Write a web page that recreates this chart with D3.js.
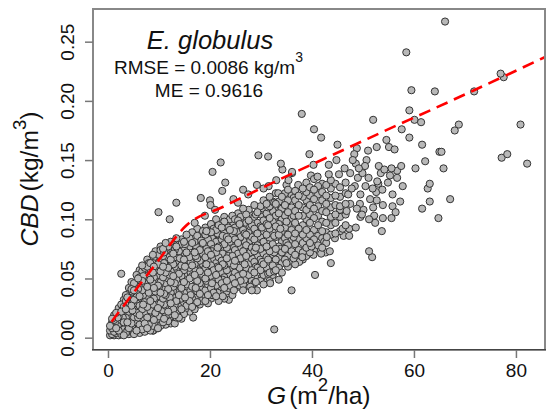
<!DOCTYPE html>
<html>
<head>
<meta charset="utf-8">
<script src="https://cdnjs.cloudflare.com/ajax/libs/d3/7.8.5/d3.min.js"></script>
<style>
  html, body { margin: 0; padding: 0; background: #fff; }
  text { font-family: "Liberation Sans", Arial, sans-serif; fill: #111; }
</style>
</head>
<body>
<div id="chart"></div>
<script>
const xTicks = [0, 20, 40, 60, 80]
const yTicks = [0, 0.05, 0.1, 0.15, 0.2, 0.25]

const cloudRows = [
  [0.4, [2, 6, 10]],
  [0.8, [3, 8, 13, 16]],
  [1.2, [2, 5, 11, 15, 19]],
  [1.6, [4, 8, 14, 21]],
  [2.1, [2, 6, 12, 18, 25]],
  [2.6, [3, 9, 15, 22, 28]],
  [3.1, [2, 7, 13, 19, 26, 32]],
  [3.5, [4, 10, 17, 24, 31, 36]],
  [4.1, [3, 8, 15, 22, 29, 37, 42]],
  [4.6, [5, 12, 19, 27, 34, 41, 47]],
  [5.1, [3, 9, 17, 25, 32, 40, 46]],
  [5.6, [6, 13, 21, 29, 37, 45, 53]],
  [6.2, [4, 11, 19, 27, 35, 43, 51, 57]],
  [6.7, [7, 15, 24, 32, 40, 48, 56, 61]],
  [7.2, [5, 12, 21, 30, 38, 46, 55, 59]],
  [7.7, [8, 17, 26, 34, 43, 52, 60, 66]],
  [8.3, [6, 14, 23, 31, 40, 49, 58, 63]],
  [8.8, [6, 10, 19, 28, 37, 46, 55, 63, 70]],
  [9.3, [12, 21, 30, 39, 48, 57, 66, 73]],
  [9.8, [8, 16, 25, 35, 44, 53, 62, 69]],
  [10.3, [10, 20, 29, 38, 47, 56, 65, 74, 77]],
  [10.8, [13, 23, 33, 42, 51, 60, 69, 75]],
  [11.3, [11, 18, 27, 36, 46, 55, 64, 73, 80]],
  [11.8, [14, 22, 31, 41, 50, 59, 68, 77]],
  [12.3, [12, 20, 29, 38, 47, 56, 66, 75, 81]],
  [12.8, [15, 24, 34, 43, 52, 62, 71, 79]],
  [13.4, [17, 22, 31, 40, 49, 58, 68, 77, 84]],
  [13.9, [17, 26, 36, 45, 54, 64, 73, 80]],
  [14.4, [16, 24, 33, 42, 52, 61, 70, 79, 83]],
  [14.9, [20, 29, 38, 47, 57, 66, 75, 81]],
  [15.4, [23, 27, 36, 45, 54, 63, 72, 81, 87]],
  [16, [22, 31, 40, 50, 59, 68, 77, 84]],
  [16.5, [26, 33, 43, 52, 61, 70, 80, 89]],
  [17, [24, 34, 44, 53, 62, 72, 81]],
  [17.5, [30, 39, 48, 58, 67, 76, 86, 92]],
  [18, [28, 37, 46, 56, 65, 74, 84]],
  [18.6, [34, 43, 52, 62, 71, 80, 90]],
  [19.1, [31, 40, 50, 59, 68, 78, 87, 93]],
  [19.6, [29, 36, 45, 55, 64, 73, 83, 90]],
  [20.2, [33, 42, 51, 61, 70, 79, 89, 96]],
  [20.7, [38, 47, 57, 66, 75, 85, 92]],
  [21.2, [35, 44, 53, 63, 72, 81, 91, 100]],
  [21.7, [31, 40, 49, 59, 68, 77, 87, 95]],
  [22.3, [37, 46, 55, 65, 74, 83, 93]],
  [22.8, [33, 42, 51, 61, 70, 79, 89, 98, 102]],
  [23.3, [39, 48, 57, 67, 76, 85, 95]],
  [23.9, [44, 53, 63, 72, 81, 91, 100]],
  [24.4, [36, 41, 50, 59, 69, 78, 87, 97, 103]],
  [24.9, [46, 55, 65, 74, 83, 93, 100]],
  [25.5, [43, 52, 61, 71, 80, 89, 99, 105]],
  [26, [48, 57, 67, 76, 85, 95, 102]],
  [26.5, [40, 45, 54, 63, 73, 82, 91, 101, 109]],
  [27.1, [50, 59, 69, 78, 87, 97, 104]],
  [27.6, [44, 53, 62, 71, 81, 90, 99, 108]],
  [28.2, [40, 48, 57, 67, 76, 85, 95, 104]],
  [28.7, [46, 55, 64, 73, 83, 92, 102, 112]],
  [29.3, [50, 59, 69, 78, 88, 97, 106]],
  [29.9, [48, 57, 66, 75, 85, 94, 104, 111]],
  [30.5, [45, 53, 62, 71, 81, 90, 99, 109, 116]],
  [31.1, [59, 68, 77, 87, 96, 105, 113]],
  [31.7, [48, 55, 64, 73, 83, 92, 101, 111, 119]],
  [32.3, [53, 61, 70, 79, 89, 98, 107, 115]],
  [32.9, [57, 66, 75, 85, 94, 103, 113, 122]],
  [33.5, [59, 68, 77, 87, 96, 105, 115]],
  [34.1, [55, 63, 72, 81, 90, 100, 109, 119]],
  [34.7, [66, 75, 84, 93, 103, 112, 122]],
  [35.3, [60, 69, 78, 87, 96, 106, 116, 125]],
  [36, [64, 73, 82, 91, 101, 110, 120]],
  [36.7, [62, 70, 79, 88, 97, 107, 116, 124]],
  [37.4, [66, 74, 83, 92, 103, 112, 120]],
  [38.2, [66, 72, 80, 87, 95, 103, 110, 119, 126]],
  [38.9, [69, 76, 84, 91, 100, 108, 116, 123, 131]],
  [39.6, [72, 80, 87, 97, 104, 112, 120, 127]],
  [40.4, [74, 83, 91, 101, 109, 117, 125, 134]],
  [41.2, [78, 86, 95, 103, 111, 121, 128]],
  [42, [76, 84, 90, 98, 107, 116, 123, 130]],
  [42.8, [80, 89, 97, 106, 113, 120, 129]],
  [43.7, [87, 95, 102, 110, 118, 126, 133]],
  [44.6, [88, 97, 104, 112, 120, 130]],
  [45.5, [90, 102, 111, 119, 127]],
  [46.6, [95, 104, 113, 122, 131]],
]

// second reading of the same cloud, columns in between the ones above
const cloudInBetween = [
  [1.9, [10, 17]],
  [2.9, [5, 17, 24]],
  [3.8, [6, 13, 27, 34]],
  [4.8, [8, 23, 31, 39]],
  [5.9, [9, 17, 33, 41, 50]],
  [6.9, [10, 28, 36, 52, 59]],
  [8, [11, 21, 38, 47, 63]],
  [9, [15, 33, 42, 51, 60, 68]],
  [10, [18, 27, 43, 52, 70]],
  [11, [16, 28, 37, 63, 72]],
  [12.1, [17, 34, 44, 53, 71, 78]],
  [13.1, [19, 28, 46, 60, 74]],
  [14.1, [21, 39, 50, 67, 76]],
  [15.1, [24, 34, 43, 60, 70, 79]],
  [16.2, [27, 36, 55, 64, 82]],
  [17.2, [29, 42, 57, 69, 78]],
  [18.3, [31, 41, 54, 67, 82]],
  [19.3, [35, 48, 62, 75, 90]],
  [20.4, [36, 46, 58, 73, 84]],
  [21.5, [38, 51, 60, 76, 88]],
  [22.5, [35, 49, 62, 71, 86, 97]],
  [23.6, [42, 56, 69, 83, 93]],
  [24.7, [40, 52, 61, 76, 90]],
  [25.8, [44, 59, 70, 84, 96]],
  [26.8, [49, 62, 74, 88, 100]],
  [27.9, [43, 56, 72, 82, 94]],
  [29, [47, 60, 76, 90, 104]],
  [30.2, [51, 64, 80, 93, 108]],
  [31.4, [54, 66, 79, 95, 110]],
  [32.6, [56, 72, 86, 100, 114]],
  [33.8, [62, 75, 92, 108]],
  [35, [63, 80, 98, 113]],
  [36.4, [67, 85, 103, 118]],
]

// single points around the cloud: [G, CBD]
const scatterPoints = [
  [66.1, 0.267], [58.5, 0.241], [59.5, 0.209], [64.1, 0.208], [71.8, 0.208], [77, 0.223], [77.6, 0.22],
  [38, 0.189], [52, 0.184], [59.1, 0.192], [60.1, 0.184], [61.4, 0.182], [40.4, 0.176], [41.8, 0.169],
  [57.6, 0.176], [59.1, 0.169], [68.8, 0.18], [68, 0.175], [80.9, 0.18], [54.6, 0.167], [61.6, 0.163],
  [45, 0.163], [52.7, 0.161], [48.8, 0.16], [55.1, 0.161], [56.2, 0.159], [51, 0.158], [39.5, 0.155],
  [48.3, 0.155], [65.4, 0.157], [65, 0.157], [78.3, 0.155], [77.2, 0.152], [44.8, 0.15], [50.7, 0.15],
  [48, 0.15], [62.2, 0.149], [40.3, 0.146], [43.3, 0.146], [48.6, 0.147], [50.4, 0.145], [53.1, 0.145],
  [57.5, 0.145], [82.2, 0.147], [60.3, 0.143], [65.8, 0.143], [46.4, 0.143], [49.2, 0.143], [47.5, 0.139],
  [49.9, 0.139], [55.6, 0.143], [54.2, 0.142], [56.7, 0.141], [53.5, 0.139], [45.3, 0.138], [43.3, 0.138],
  [39.8, 0.137], [41.1, 0.136], [51.1, 0.135], [55.3, 0.137], [36.1, 0.14], [49, 0.135],
  [56.7, 0.135], [57.8, 0.128], [54.9, 0.131], [52.8, 0.132], [50.5, 0.128], [53, 0.13], [53.8, 0.125],
  [51.9, 0.126], [52.6, 0.123], [63.1, 0.13], [62.7, 0.126], [55.8, 0.121], [49.5, 0.121], [51.4, 0.117],
  [52.7, 0.116], [57.3, 0.115], [67.1, 0.117], [63.1, 0.115], [53.9, 0.112], [55.8, 0.111], [52, 0.11],
  [61.6, 0.109], [48.8, 0.109], [50.1, 0.108], [56.4, 0.106], [64.8, 0.101], [53.9, 0.101], [55.6, 0.101],
  [52.2, 0.103], [51.2, 0.1], [52.4, 0.097], [49.8, 0.104], [49.5, 0.102], [48.6, 0.093], [47.3, 0.092],
  [46, 0.092], [53.7, 0.09], [47.3, 0.086], [46.2, 0.086], [44.5, 0.084], [42.9, 0.085], [42.4, 0.081],
  [51.2, 0.073], [51.8, 0.068], [43.5, 0.073], [42.7, 0.072], [41.8, 0.071], [40.3, 0.07], [43.7, 0.063],
  [40.6, 0.053], [36, 0.04], [38.1, 0.068], [38.1, 0.073], [39.9, 0.077], [37.5, 0.064],
  [47.8, 0.126], [48.4, 0.128], [47.1, 0.121], [47.5, 0.113], [49.4, 0.113], [45.5, 0.108], [46.8, 0.107],
  [29.5, 0.154], [31.4, 0.153], [22.1, 0.148], [33.9, 0.147], [20.5, 0.14], [34.2, 0.142], [36.1, 0.139],
  [23, 0.131], [22.4, 0.124], [18.2, 0.118], [20, 0.116], [20.1, 0.112], [13.4, 0.114], [9.9, 0.106],
  [12.1, 0.1], [29.2, 0.129], [26.5, 0.125], [30.5, 0.126], [24.6, 0.117], [35.4, 0.133], [35, 0.129],
  [37.3, 0.129], [33.4, 0.122], [2.6, 0.054], [32.6, 0.007], [16.7, 0.017], [31.8, 0.046],
  [23.7, 0.032], [29.2, 0.04], [33.5, 0.049], [13.1, 0.012], [8.9, 0.006], [9.8, 0.008],
  [21, 0.108], [25.5, 0.114], [27.5, 0.121], [31.5, 0.128], [19, 0.103], [33, 0.133], [17, 0.097],
]

// dashed model curve
const curveG = [0.7, 9.5, 15.4, 22.6, 36.3, 42.2, 48.9, 57.3, 63.7, 71.8, 85.7]
const curveCBD = [0.0135, 0.063, 0.095, 0.1106, 0.139, 0.1507, 0.164, 0.1806, 0.193, 0.209, 0.237]

const WIDTH = 547
const HEIGHT = 412
const margin = { top: 9, right: 2, bottom: 62, left: 93 }

const xScale = d3.scaleLinear().domain([-2.94, 85.7]).range([margin.left, WIDTH - margin.right])
const yScale = d3.scaleLinear().domain([-0.0104, 0.2776]).range([HEIGHT - margin.bottom, margin.top])

const svg = d3.select('#chart').append('svg')
  .attr('width', WIDTH)
  .attr('height', HEIGHT)
  .style('display', 'block')

const points = []
cloudRows.concat(cloudInBetween).forEach(([g, values]) => values.forEach(v => points.push([g, v / 1000])))
scatterPoints.forEach(p => points.push(p))

// the source draws plots in no spatial order, so step through the list instead of left to right
const drawOrder = d3.range(points.length).sort((a, b) => (a * 2477) % 1009 - (b * 2477) % 1009)

svg.append('g').attr('class', 'points')
  .selectAll('circle')
  .data(drawOrder.map(i => points[i]))
  .enter()
  .append('circle')
  .attr('cx', d => xScale(d[0]))
  .attr('cy', d => yScale(d[1]))
  .attr('r', 3.6)
  .attr('fill', '#b8b8b8')
  .attr('stroke', '#333')
  .attr('stroke-width', 1)

const curve = d3.line()
  .x(d => xScale(d[0]))
  .y(d => yScale(d[1]))
  .curve(d3.curveMonotoneX)

svg.append('path')
  .attr('d', curve(curveG.map((g, i) => [g, curveCBD[i]])))
  .attr('fill', 'none')
  .attr('stroke', '#f00')
  .attr('stroke-width', 2.6)
  .attr('stroke-dasharray', '12 7')

svg.append('rect')
  .attr('x', margin.left)
  .attr('y', margin.top)
  .attr('width', WIDTH - margin.left - margin.right)
  .attr('height', HEIGHT - margin.top - margin.bottom)
  .attr('fill', 'none')
  .attr('stroke', '#888')
  .attr('stroke-width', 2)

svg.append('line')
  .attr('x1', margin.left - 1)
  .attr('x2', WIDTH - margin.right + 1)
  .attr('y1', HEIGHT - margin.bottom - 0.5)
  .attr('y2', HEIGHT - margin.bottom - 0.5)
  .attr('stroke', '#444')
  .attr('stroke-width', 1)

const xAxis = d3.axisBottom(xScale).tickValues(xTicks).tickSize(8).tickPadding(6).tickFormat(d3.format('d'))
const yAxis = d3.axisLeft(yScale).tickValues(yTicks).tickSize(8).tickPadding(7).tickFormat(d3.format('.2f'))

const gx = svg.append('g')
  .attr('transform', `translate(0,${HEIGHT - margin.bottom})`)
  .call(xAxis)
const gy = svg.append('g')
  .attr('transform', `translate(${margin.left},0)`)
  .call(yAxis)

gx.select('.domain').remove()
gy.select('.domain').remove()
svg.selectAll('.tick line').attr('stroke', '#777').attr('stroke-width', 1.5)
svg.selectAll('.tick text')
  .style('font-family', '"Liberation Sans", Arial, sans-serif')
  .style('font-size', '19px')
  .attr('fill', '#111')

gy.selectAll('.tick text')
  .attr('x', 0)
  .attr('y', 0)
  .attr('dy', 0)
  .attr('text-anchor', 'middle')
  .attr('transform', 'translate(-19,0) rotate(-90)')

// annotation
svg.append('text')
  .attr('x', 210).attr('y', 49)
  .attr('text-anchor', 'middle')
  .style('font-size', '25.6px')
  .style('font-style', 'italic')
  .text('E. globulus')

const rmse = svg.append('text')
  .attr('x', 114).attr('y', 74)
  .style('font-size', '19px')
rmse.append('tspan').text('RMSE = 0.0086 kg/m')
rmse.append('tspan').attr('dy', -12).style('font-size', '14px').text('3')

svg.append('text')
  .attr('x', 209).attr('y', 97)
  .attr('text-anchor', 'middle')
  .style('font-size', '19px')
  .text('ME = 0.9616')

// axis titles
const xTitle = svg.append('text')
  .attr('x', 267).attr('y', 403.5)
  .style('font-size', '24.6px')
xTitle.append('tspan').style('font-style', 'italic').text('G')
xTitle.append('tspan').attr('dx', 3).text('(m')
xTitle.append('tspan').attr('dy', -13).style('font-size', '18.6px').text('2')
xTitle.append('tspan').attr('dy', 13).text('/ha)')

const yTitle = svg.append('text')
  .attr('transform', 'translate(38,246.5) rotate(-90)')
  .style('font-size', '24.6px')
yTitle.append('tspan').style('font-style', 'italic').text('CBD')
yTitle.append('tspan').attr('dx', 3).text('(kg/m')
yTitle.append('tspan').attr('dy', -12).style('font-size', '18.6px').text('3')
yTitle.append('tspan').attr('dy', 12).text(')')
</script>
</body>
</html>
